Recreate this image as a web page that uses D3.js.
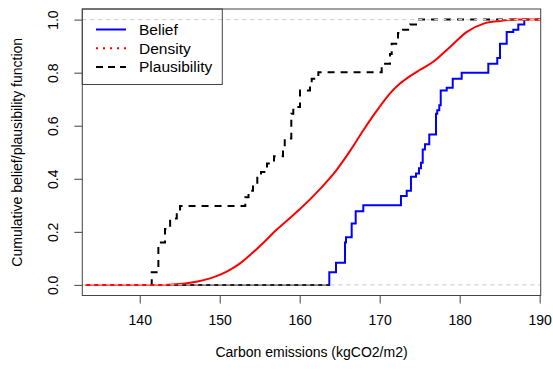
<!DOCTYPE html>
<html>
<head>
<meta charset="utf-8">
<script src="https://cdn.jsdelivr.net/npm/d3@7"></script>
<style>
  body { margin: 0; background: white; }
  svg { font-family: "Liberation Sans", Arial, sans-serif; }
</style>
</head>
<body>
<svg></svg>
<script>

// belief (lower) cumulative function, step points
var beliefX = [133.2, 163.70, 164.54, 165.66, 165.79, 166.50, 167.00, 167.95, 172.66, 173.38, 173.91, 174.54, 174.91, 175.16, 175.38, 175.66, 176.20, 177.04, 177.20, 177.45, 177.63, 178.38, 179.13, 180.25, 183.58, 184.70, 185.04, 185.88, 186.70, 187.33, 188.08];
var beliefY = [0, 0.048, 0.083, 0.16, 0.18, 0.231, 0.278, 0.30, 0.335, 0.355, 0.408, 0.42, 0.44, 0.46, 0.51, 0.53, 0.567, 0.645, 0.658, 0.677, 0.733, 0.743, 0.777, 0.80, 0.834, 0.855, 0.909, 0.953, 0.962, 0.982, 1.0];

// plausibility (upper) cumulative function
var plausX = [133.2, 141.50, 142.33, 143.16, 143.80, 144.63, 145.04, 153.20, 153.60, 154.16, 154.70, 155.16, 155.91, 156.79, 157.91, 158.13, 158.95, 159.20, 160.04, 161.29, 161.50, 162.33, 170.25, 171.29, 171.50, 172.29, 172.91, 173.79, 174.54, 190.2];
var plausY = [0, 0.048, 0.16, 0.211, 0.25, 0.274, 0.297, 0.33, 0.355, 0.38, 0.408, 0.426, 0.458, 0.485, 0.52, 0.552, 0.645, 0.671, 0.733, 0.755, 0.777, 0.802, 0.834, 0.87, 0.909, 0.95, 0.962, 0.982, 1.0, 1.0];

// cumulative of the density
var densX = [133.2, 143, 144.5, 146.3, 148, 149.5, 151, 152.5, 154, 155.5, 157, 158.5, 160, 162.5, 164.6, 166.3, 168, 169.6, 171.3, 172.5, 173.8, 175, 176.7, 178.8, 180.9, 183, 185, 187, 190.2];
var densY = [0, 0, 0.002, 0.008, 0.018, 0.032, 0.052, 0.08, 0.118, 0.16, 0.205, 0.245, 0.285, 0.36, 0.433, 0.505, 0.585, 0.655, 0.722, 0.758, 0.787, 0.81, 0.841, 0.897, 0.954, 0.985, 0.995, 1, 1];

var xTicks = [140, 150, 160, 170, 180, 190];
var yTicks = [0, 0.2, 0.4, 0.6, 0.8, 1.0];
var refLines = [0, 1];

var legendNames = ["Belief", "Density", "Plausibility"];
var legendColors = ["#0000ff", "#ff0000", "#000000"];
var legendDash = ["none", "2,5", "7,5"];

var W = 553, H = 376;
var pLeft = 82.3, pRight = 540.7, pTop = 9.0, pBottom = 295.5;

var svg = d3.select("svg")
    .attr("width", W)
    .attr("height", H)

var x = d3.scaleLinear().domain([132.82, 190.13]).range([pLeft, pRight]);
var y = d3.scaleLinear().domain([-0.04, 1.04]).range([pBottom, pTop]);

svg.append("clipPath").attr("id", "clip")
    .append("rect")
    .attr("x", pLeft).attr("y", pTop)
    .attr("width", pRight - pLeft).attr("height", pBottom - pTop)

var plot = svg.append("g").attr("clip-path", "url(#clip)")

function pairs(xs, ys) {
    return xs.map(function(v, i) { return [v, ys[i]]; });
}

var step = d3.line()
    .x(function(d) { return x(d[0]); })
    .y(function(d) { return y(d[1]); })
    .curve(d3.curveStepAfter)

var smooth = d3.line()
    .x(function(d) { return x(d[0]); })
    .y(function(d) { return y(d[1]); })
    .curve(d3.curveMonotoneX)

var belief = pairs(beliefX, beliefY);

plot.append("path")
    .datum(belief)
    .attr("d", step)
    .attr("fill", "none")
    .attr("stroke", "#0000ff")
    .attr("stroke-width", 2)

// zero part of the belief line shows dark under the others
plot.append("path")
    .datum(belief.slice(0, 2).map(function(d) { return [d[0], 0]; }))
    .attr("d", step)
    .attr("fill", "none")
    .attr("stroke", "#222")
    .attr("stroke-width", 2)

plot.append("path")
    .datum(pairs(plausX, plausY))
    .attr("d", step)
    .attr("fill", "none")
    .attr("stroke", "#000")
    .attr("stroke-width", 2)
    .attr("stroke-dasharray", "7,6")

plot.append("path")
    .datum(pairs(densX, densY))
    .attr("d", smooth)
    .attr("fill", "none")
    .attr("stroke", "#ff0000")
    .attr("stroke-width", 2)

plot.selectAll(".ref")
    .data(refLines)
    .enter()
    .append("line")
    .attr("x1", pLeft).attr("x2", pRight)
    .attr("y1", function(d) { return y(d); })
    .attr("y2", function(d) { return y(d); })
    .attr("stroke", "#d3d3d3")
    .attr("stroke-width", 1.2)
    .attr("stroke-dasharray", "4,4")

// axes
var xAxis = svg.append("g")
    .attr("transform", "translate(0," + pBottom + ")")
    .call(d3.axisBottom(x).tickValues(xTicks).tickSize(8).tickPadding(12).tickFormat(d3.format("d")))

var yAxis = svg.append("g")
    .attr("transform", "translate(" + pLeft + ",0)")
    .call(d3.axisLeft(y).tickValues(yTicks).tickSize(8).tickFormat(d3.format(".1f")))

xAxis.select(".domain").remove();
yAxis.select(".domain").remove();
svg.selectAll(".tick line").attr("stroke", "#444")
svg.selectAll(".tick text").attr("fill", "#000").style("font-size", "14px")

yAxis.selectAll(".tick text")
    .attr("text-anchor", "middle")
    .attr("dy", 0)
    .attr("x", 0).attr("y", 0)
    .attr("transform", "translate(-29,0) rotate(-90)")
    .attr("dominant-baseline", "central")

svg.append("rect")
    .attr("x", pLeft).attr("y", pTop)
    .attr("width", pRight - pLeft).attr("height", pBottom - pTop)
    .attr("fill", "none")
    .attr("stroke", "#444")
    .attr("stroke-width", 1)

svg.append("text")
    .attr("x", (pLeft + pRight) / 2)
    .attr("y", 357)
    .attr("text-anchor", "middle")
    .style("font-size", "14px")
    .text("Carbon emissions (kgCO2/m2)")

svg.append("text")
    .attr("transform", "translate(22," + ((pTop + pBottom) / 2) + ") rotate(-90)")
    .attr("text-anchor", "middle")
    .style("font-size", "14px")
    .text("Cumulative belief/plausibility function")

// legend
var legend = svg.append("g")

legend.append("rect")
    .attr("x", pLeft).attr("y", pTop)
    .attr("width", 140).attr("height", 75.5)
    .attr("fill", "none")
    .attr("stroke", "#444")

var item = legend.selectAll(".item")
    .data(legendNames)
    .enter()
    .append("g")
    .attr("transform", function(d, i) { return "translate(0," + (29.5 + i * 18.7) + ")"; })

item.append("line")
    .attr("x1", 96).attr("x2", 126)
    .attr("stroke", function(d, i) { return legendColors[i]; })
    .attr("stroke-width", 2)
    .attr("stroke-dasharray", function(d, i) { return legendDash[i]; })

item.append("text")
    .attr("x", 139)
    .attr("dy", "0.36em")
    .style("font-size", "15.5px")
    .text(function(d) { return d; })

</script>
</body>
</html>
